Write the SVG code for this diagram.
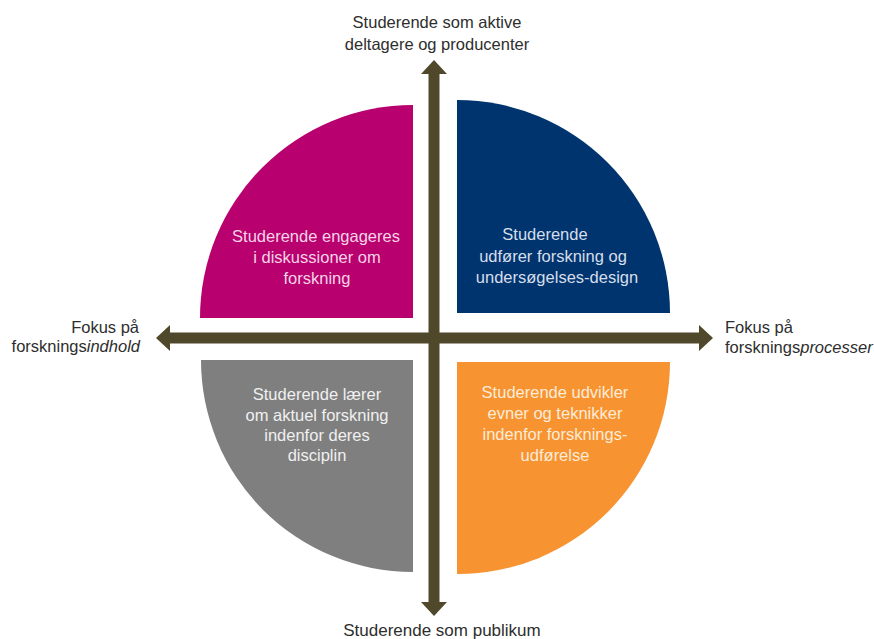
<svg xmlns="http://www.w3.org/2000/svg" width="874" height="639" viewBox="0 0 874 639">
<style>
  .lbl { font-family: "Liberation Sans", Arial, sans-serif; font-size: 16.5px; fill: #2e2e2e; }
  .q { font-family: "Liberation Sans", Arial, sans-serif; font-size: 16.5px; text-anchor: middle; }
  .axis { stroke: #50482A; stroke-width: 11; fill: none; marker-start: url(#ah); marker-end: url(#ah); }
</style>
<defs>
  <marker id="ah" viewBox="0 0 14 26" refX="1" refY="13" markerWidth="14" markerHeight="26" markerUnits="userSpaceOnUse" orient="auto-start-reverse">
    <path d="M0,0 L14,13 L0,26 Z" fill="#50482A"/>
  </marker>
</defs>
<rect width="874" height="639" fill="#ffffff"/>

<g id="q-top-left">
  <path d="M413,318 L200,318 A213,213 0 0 1 413,105 Z" fill="#B8006F"/>
  <text class="q" fill="#F6D3E6"><tspan x="316" y="242">Studerende engageres</tspan><tspan x="317" y="263">i diskussioner om</tspan><tspan x="317" y="284">forskning</tspan></text>
</g>
<g id="q-top-right">
  <path d="M457,313 L457,100 A213,213 0 0 1 670,313 Z" fill="#00346F"/>
  <text class="q" fill="#D6DEEA"><tspan x="545" y="240">Studerende</tspan><tspan x="553" y="262">udfører forskning og</tspan><tspan x="557" y="283">undersøgelses-design</tspan></text>
</g>
<g id="q-bottom-left">
  <path d="M413,360 L413,572 A212,212 0 0 1 201,360 Z" fill="#7F7F7F"/>
  <text class="q" fill="#F0F0F0"><tspan x="317" y="400">Studerende lærer</tspan><tspan x="317" y="421">om aktuel forskning</tspan><tspan x="317" y="441">indenfor deres</tspan><tspan x="317" y="461">disciplin</tspan></text>
</g>
<g id="q-bottom-right">
  <path d="M457,362 L670,362 A212,212 0 0 1 457,574 Z" fill="#F79431"/>
  <text class="q" fill="#FDEBD8"><tspan x="555" y="398">Studerende udvikler</tspan><tspan x="555" y="419">evner og teknikker</tspan><tspan x="555" y="440">indenfor forsknings-</tspan><tspan x="555" y="461">udførelse</tspan></text>
</g>

<g id="connectors">
  <line class="axis" x1="169" y1="338" x2="700" y2="338"/>
  <line class="axis" x1="434" y1="603" x2="434" y2="73"/>
</g>

<g id="label-top">
  <text class="lbl" text-anchor="middle"><tspan x="437" y="28">Studerende som aktive</tspan><tspan x="437" y="50">deltagere og producenter</tspan></text>
</g>
<g id="label-bottom">
  <text class="lbl" text-anchor="middle" style="font-size:17px"><tspan x="442" y="636">Studerende som publikum</tspan></text>
</g>
<g id="label-left">
  <text class="lbl" text-anchor="end"><tspan x="139" y="333">Fokus på</tspan><tspan x="140" y="352">forsknings<tspan font-style="italic">indhold</tspan></tspan></text>
</g>
<g id="label-right">
  <text class="lbl"><tspan x="725" y="333">Fokus på</tspan><tspan x="725" y="353">forsknings<tspan font-style="italic">processer</tspan></tspan></text>
</g>
</svg>
